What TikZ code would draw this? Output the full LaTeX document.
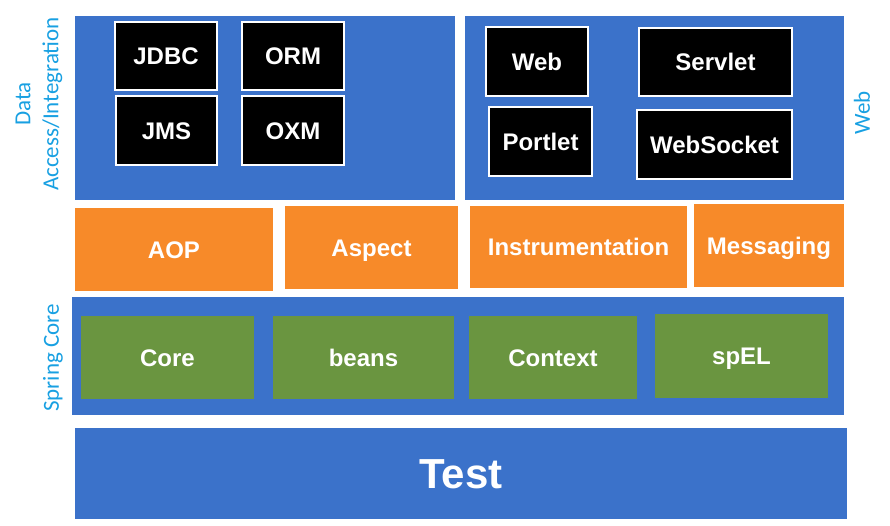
\documentclass[tikz,border=0pt]{standalone}
\usepackage{fontspec}
\setmainfont{Liberation Sans}
\newfontfamily\labelfont{Carlito}
\definecolor{layerblue}{RGB}{59,114,202}
\definecolor{aoporange}{RGB}{247,138,41}
\definecolor{coregreen}{RGB}{106,149,64}
\definecolor{labelblue}{RGB}{24,160,226}
\begin{document}
\begin{tikzpicture}[x=1pt,y=-1pt]
  \tikzstyle{layer}=[rectangle,fill=layerblue,inner sep=0pt,outer sep=0pt]
  \tikzstyle{module}=[rectangle,fill=black,draw=white,line width=1.2pt,inner sep=0pt,text=white,text height=17.2pt,text depth=0pt,font=\fontsize{24}{28}\selectfont\bfseries]
  \tikzstyle{aspectbox}=[rectangle,fill=aoporange,inner sep=0pt,text=white,text height=17.2pt,text depth=0pt,font=\fontsize{24}{28}\selectfont\bfseries]
  \tikzstyle{corebox}=[rectangle,fill=coregreen,inner sep=0pt,text=white,text height=17.2pt,text depth=0pt,font=\fontsize{24}{28}\selectfont\bfseries]
  \tikzstyle{side}=[rotate=90,text=labelblue,align=center,font=\labelfont\fontsize{23}{28}\selectfont]
  \useasboundingbox (0,0) rectangle (890,525);
  % data access / integration
  \node[layer,minimum width=380,minimum height=184] (DA) at (265,108) {};
  \node[module,minimum width=102,minimum height=68] (JDBC) at (166,56) {JDBC};
  \node[module,minimum width=102,minimum height=68] (ORM) at (293,56) {ORM};
  \node[module,minimum width=101,minimum height=69] (JMS) at (166.5,130.5) {JMS};
  \node[module,minimum width=102,minimum height=69] (OXM) at (293,130.5) {OXM};
  \node[side] (DAlabel) at (39,104) {Data\\Access/Integration};
  % web
  \node[layer,minimum width=379,minimum height=184] (WB) at (654.5,108) {};
  \node[module,minimum width=102,minimum height=69] (Web) at (537,61.5) {Web};
  \node[module,minimum width=153,minimum height=68] (Servlet) at (715.5,62) {Servlet};
  \node[module,minimum width=103,minimum height=69] (Portlet) at (540.5,141.5) {Portlet};
  \node[module,minimum width=155,minimum height=69] (WebSocket) at (714.5,144.5) {WebSocket};
  \node[side] (WBlabel) at (862,113) {Web};
  % middle row
  \node[aspectbox,minimum width=198,minimum height=83] (AOP) at (174,249.5) {AOP};
  \node[aspectbox,minimum width=173,minimum height=83] (Aspect) at (371.5,247.5) {Aspect};
  \node[aspectbox,minimum width=217,minimum height=82] (Instr) at (578.5,247) {Instrumentation};
  \node[aspectbox,minimum width=150,minimum height=83] (Msg) at (769,245.5) {Messaging};
  % spring core
  \node[layer,minimum width=772,minimum height=118] (SC) at (458,356) {};
  \node[corebox,minimum width=173,minimum height=83] (Core) at (167.5,357.5) {Core};
  \node[corebox,minimum width=181,minimum height=83] (beans) at (363.5,357.5) {beans};
  \node[corebox,minimum width=168,minimum height=83] (Context) at (553,357.5) {Context};
  \node[corebox,minimum width=173,minimum height=84] (spEL) at (741.5,356) {spEL};
  \node[side] (SClabel) at (53,358) {Spring Core};
  % test
  \node[layer,minimum width=772,minimum height=91,text=white,text height=30pt,text depth=0pt,font=\fontsize{42}{48}\selectfont\bfseries] (Test) at (461,473.5) {Test};
\end{tikzpicture}
\end{document}
